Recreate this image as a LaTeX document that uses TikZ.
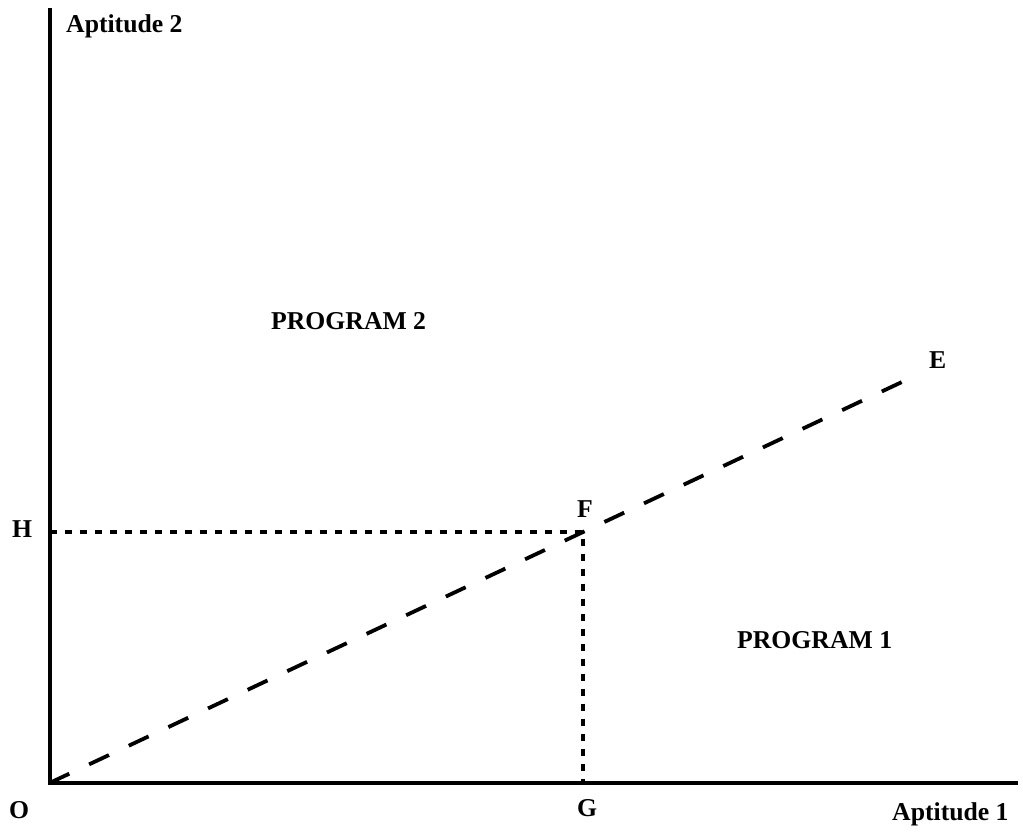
\documentclass[tikz,border=0pt]{standalone}
\usepackage{fontspec}
\setmainfont{Liberation Serif}
\begin{document}
\begin{tikzpicture}[x=1pt,y=-1pt,
  lbl/.style={inner sep=0pt,anchor=base west,font=\fontsize{25.7}{28}\selectfont\bfseries},
  axisline/.style={line width=4pt},
  dashline/.style={line width=3.8pt,dash pattern=on 21.9pt off 21.9pt},
  dotline/.style={line width=3.8pt,dash pattern=on 7pt off 8pt}]
\useasboundingbox (0,0) rectangle (1023,831);
\coordinate (O) at (49.5,783);
\coordinate (Ytop) at (49.5,8);
\coordinate (Xend) at (1018,783);
\coordinate (E) at (903,381.5);
\coordinate (F) at (583,532);
\coordinate (H) at (49.5,532);
\coordinate (G) at (583,783);
\draw[axisline] (Ytop) -- (O) -- (Xend);
\draw[dashline] (O) -- (E);
\draw[dotline] (H) -- (F) -- (G);
\node[lbl] (ya) at (66,32) {Aptitude 2};
\node[lbl] (xa) at (892,820) {Aptitude 1};
\node[lbl] (lo) at (9,818) {O};
\node[lbl] (lg) at (577,816) {G};
\node[lbl] (lh) at (12,537) {H};
\node[lbl] (lf) at (577,517) {F};
\node[lbl] (le) at (929,368) {E};
\node[lbl] (p2) at (271,329) {PROGRAM 2};
\node[lbl] (p1) at (737,648) {PROGRAM 1};
\end{tikzpicture}
\end{document}
